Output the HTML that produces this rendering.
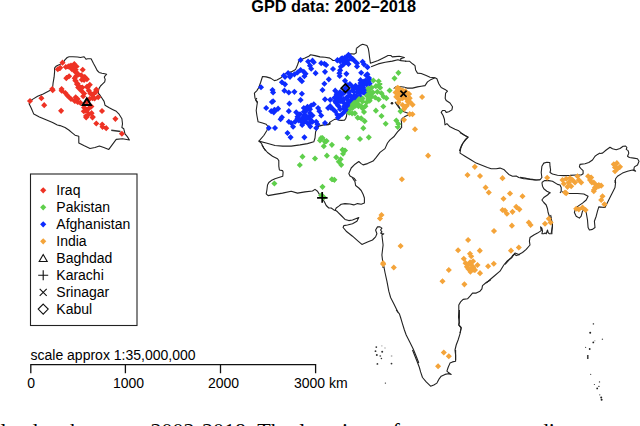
<!DOCTYPE html>
<html><head><meta charset="utf-8"><style>
html,body{margin:0;padding:0;background:#fff;width:640px;height:426px;overflow:hidden}
svg{display:block}
text{font-family:"Liberation Sans",Arial,sans-serif;fill:#000}
</style></head><body>
<svg width="640" height="426" viewBox="0 0 640 426">
<path d="M256.9 102.5 L255.0 98.1 L254.4 93.1 L256.9 90.6 L258.8 87.5 L260.6 82.5 L262.5 76.5 L266.2 76.9 L270.6 78.1 L274.4 80.6 L276.9 80.0 L280.6 78.1 L283.1 75.6 L286.2 73.1 L291.2 71.9 L295.6 69.4 L297.5 65.0 L298.8 61.2 L301.2 59.4 L305.0 58.1 L308.8 56.2 L310.6 54.8 L315.0 55.6 L320.0 56.9 L325.0 57.2 L330.0 58.1" fill="none" stroke="#222" stroke-width="1.1" stroke-linejoin="round"/>
<path d="M356.3 48.5 L359.9 45.6 L362.7 44.2 L366.9 45.6 L368.3 48.5 L369.0 52.7 L369.7 58.3 L370.4 63.2 L378.2 60.4 L385.2 56.9 L388.0 55.5 L390.8 55.5 L392.3 56.9 L395.1 56.6 L399.3 56.2 L404.4 57.5 L400.6 58.7 L401.0 60.6 L406.3 61.3" fill="none" stroke="#222" stroke-width="1.1" stroke-linejoin="round"/>
<path d="M371.1 66.8 L378.2 63.9 L385.2 62.3 L392.3 61.1 L397.9 59.7 L401.0 60.6" fill="none" stroke="#222" stroke-width="1.1" stroke-linejoin="round"/>
<path d="M404.9 87.2 L399.3 86.5 L395.8 86.8 L393.7 88.6" fill="none" stroke="#222" stroke-width="1.1" stroke-linejoin="round"/>
<path d="M395.0 101.8 L397.8 104.6 L399.9 108.2" fill="none" stroke="#222" stroke-width="1.1" stroke-linejoin="round"/>
<path d="M256.9 98.0 L255.6 99.9 L257.5 101.8 L256.9 105.5 L256.2 110.5 L256.9 115.5 L258.1 121.8 L262.5 123.0 L266.2 124.2 L268.1 126.8 L266.9 130.5 L263.8 135.5 L260.0 139.9 L258.8 141.1 L261.2 143.0 L263.8 148.0 L265.6 151.0" fill="none" stroke="#222" stroke-width="1.1" stroke-linejoin="round"/>
<path d="M258.8 141.1 L266.2 143.0 L275.0 145.5 L282.5 146.1 L291.2 146.1 L300.0 144.9 L307.5 143.6 L313.8 141.8 L315.0 138.0 L315.6 131.8 L318.8 126.1 L323.8 124.9 L328.1 124.2 L330.0 123.0" fill="none" stroke="#222" stroke-width="1.1" stroke-linejoin="round"/>
<path d="M326.0 125.0 L328.8 124.6 L330.2 123.9 L329.5 122.5 L331.6 121.1 L334.5 119.4 L336.6 119.0 L338.7 120.1 L341.5 120.4 L344.3 120.3 L345.7 118.7 L346.4 116.5 L346.8 114.1 L347.8 110.6 L349.2 106.3 L354.2 102.1" fill="none" stroke="#222" stroke-width="1.1" stroke-linejoin="round"/>
<path d="M395.2 102.2 L397.0 105.0 L399.1 107.9 L401.2 110.0 L404.0 111.7 L406.8 112.8 L409.0 113.8 L408.3 114.9 L405.4 116.3 L402.6 118.1 L401.2 119.8 L401.6 123.4 L401.6 128.0" fill="none" stroke="#222" stroke-width="1.1" stroke-linejoin="round"/>
<path d="M405.0 61.2 L409.4 61.2 L412.5 63.8 L415.0 65.6 L415.6 70.0 L417.5 73.1 L421.2 73.5 L426.2 75.6 L430.0 77.2 L435.0 77.8 L436.9 78.8 L438.8 83.8 L441.2 87.5 L445.0 89.4 L447.5 91.2 L445.6 93.1 L445.2 98.0" fill="none" stroke="#222" stroke-width="1.1" stroke-linejoin="round"/>
<path d="M435.0 77.8 L431.2 79.4 L427.5 81.9 L425.0 85.6 L421.2 86.2 L417.5 86.9 L412.5 88.1 L407.5 88.1 L405.0 87.5" fill="none" stroke="#222" stroke-width="1.1" stroke-linejoin="round"/>
<path d="M445.0 98.0 L446.2 100.5 L450.0 103.0 L452.5 106.8 L451.9 109.9 L448.8 111.8 L446.2 112.4 L445.0 110.5 L442.5 110.5 L441.2 112.4 L443.1 115.5 L444.4 119.2 L445.0 124.9 L446.9 123.6 L450.0 126.8 L455.0 129.2 L458.8 130.8 L461.2 133.0 L465.0 135.5 L468.1 137.4 L466.2 139.2 L463.1 143.0 L461.2 146.1 L459.4 151.0" fill="none" stroke="#222" stroke-width="1.1" stroke-linejoin="round"/>
<path d="M401.2 128.0 L397.5 131.8 L393.8 136.8 L390.0 139.9 L387.5 143.0 L385.0 148.6 L380.0 152.4 L376.2 157.4 L373.1 161.1 L367.5 163.6 L363.1 164.9 L361.2 163.6 L358.8 161.5 L355.0 164.2 L351.2 168.0 L348.8 173.6 L350.0 176.1 L354.4 178.6 L356.2 181.0" fill="none" stroke="#222" stroke-width="1.1" stroke-linejoin="round"/>
<path d="M261.9 145.0 L263.8 148.1 L267.5 152.5 L272.5 156.2 L277.5 158.8 L278.8 160.6 L278.8 166.2 L279.4 170.0 L282.5 170.6 L283.1 171.9 L282.8 176.2 L278.8 177.5 L275.0 178.8 L271.2 180.6 L268.8 182.5 L267.5 185.0 L266.9 190.0 L266.2 193.8 L268.1 195.6 L275.0 194.4 L282.5 193.1 L291.2 191.2 L297.5 193.1 L305.0 191.9 L312.5 191.0 L315.0 189.4 L317.5 191.2 L319.4 194.4" fill="none" stroke="#222" stroke-width="1.1" stroke-linejoin="round"/>
<path d="M460.0 132.5 L465.0 135.6 L468.1 136.9 L465.0 140.0 L462.5 143.8 L460.6 148.8 L460.0 153.1 L465.0 156.2 L471.2 160.0 L476.2 163.1 L482.5 165.6 L487.5 167.5 L491.2 168.8 L496.2 168.8 L500.0 168.1 L503.8 169.4 L506.2 171.9 L508.8 174.4 L512.5 176.2 L516.2 176.0 L518.8 177.5 L523.8 178.8 L528.8 179.0 L532.5 179.4 L536.2 180.0 L540.0 179.8" fill="none" stroke="#222" stroke-width="1.1" stroke-linejoin="round"/>
<path d="M520.0 177.2 L525.0 178.1 L530.0 179.4 L535.0 180.0 L540.0 179.8 L541.9 177.5 L541.2 172.5 L541.9 166.2 L543.8 163.1 L546.9 162.2 L549.8 162.5 L550.0 166.2 L550.6 170.0 L550.0 172.5 L552.5 174.0 L557.5 175.2 L563.8 175.6 L570.0 175.4 L576.2 175.0 L581.2 175.0 L583.1 173.8 L583.1 170.6 L581.2 168.8 L579.4 166.9 L580.0 164.4 L585.0 163.8 L588.8 162.5 L592.5 160.0 L595.0 156.2 L597.5 154.4 L600.0 153.1" fill="none" stroke="#222" stroke-width="1.1" stroke-linejoin="round"/>
<path d="M541.9 182.5 L544.4 180.6 L548.8 180.6 L552.5 181.2 L557.5 184.4 L560.0 185.0 L561.2 187.5 L561.2 191.2 L560.0 193.0" fill="none" stroke="#222" stroke-width="1.1" stroke-linejoin="round"/>
<path d="M541.9 182.5 L542.5 186.2 L543.8 188.8 L546.9 191.2 L550.6 193.0" fill="none" stroke="#222" stroke-width="1.1" stroke-linejoin="round"/>
<path d="M600.0 153.5 L602.5 153.1 L606.2 150.0 L610.0 147.2 L612.5 148.8 L616.2 149.8 L620.0 148.5 L623.1 146.2 L625.6 146.0 L626.9 147.5 L626.2 149.4 L628.1 150.6 L628.8 153.1 L627.5 156.2 L629.4 157.5 L633.8 158.1 L637.5 158.8 L639.0 161.2 L637.5 165.0 L634.4 166.9 L633.8 169.4 L635.6 171.2 L632.5 170.0 L627.5 171.2 L622.5 173.1 L617.5 176.2 L615.6 178.8 L615.0 183.0" fill="none" stroke="#222" stroke-width="1.1" stroke-linejoin="round"/>
<path d="M561.9 191.9 L568.8 193.5 L577.5 193.5 L583.8 194.0 L588.1 196.2 L586.2 200.0 L582.5 203.1 L578.8 205.6 L575.6 208.1 L574.4 212.5 L576.2 216.2 L579.4 218.1 L581.2 216.2 L582.5 211.2 L583.8 209.4 L586.2 212.5 L587.5 220.0 L588.1 227.5 L589.4 230.0 L592.5 229.4 L595.0 227.5 L594.4 221.2 L596.2 216.2 L597.5 211.2 L598.8 206.9 L605.0 207.5 L606.2 205.0 L608.1 201.2 L610.6 196.2 L612.5 192.5 L615.0 187.5 L615.6 182.5 L615.0 180.0" fill="none" stroke="#222" stroke-width="1.1" stroke-linejoin="round"/>
<path d="M550.0 192.5 L547.5 195.0 L543.8 197.5 L541.9 200.0 L543.8 202.5 L546.2 205.0 L547.5 208.8 L548.1 212.5 L549.4 216.2 L551.2 218.8 L552.5 225.0 L551.9 230.0 L551.2 233.0" fill="none" stroke="#222" stroke-width="1.1" stroke-linejoin="round"/>
<path d="M486.2 283.0 L492.5 277.5 L500.0 271.2 L503.8 265.0 L507.5 260.6 L511.9 257.5 L512.5 255.6 L514.4 253.8 L516.2 255.6 L520.0 254.4" fill="none" stroke="#222" stroke-width="1.1" stroke-linejoin="round"/>
<path d="M505.0 264.4 L510.0 258.8 L513.8 255.0 L515.0 253.1 L518.8 254.4 L522.5 252.5 L526.2 249.4 L530.0 245.0 L529.4 241.2 L530.0 237.5 L533.8 235.0 L537.5 233.1 L541.2 230.6 L540.6 226.9 L541.9 228.1 L542.5 231.2 L541.9 233.8 L543.8 233.8 L545.0 233.1 L546.2 233.8 L547.5 230.0 L548.1 232.5 L549.4 233.8 L551.9 233.8 L551.9 230.0 L552.5 226.2 L551.9 222.5 L551.2 217.5 L550.6 215.0" fill="none" stroke="#222" stroke-width="1.1" stroke-linejoin="round"/>
<path d="M490.6 280.0 L486.2 282.5 L482.5 285.6 L481.9 288.8 L480.0 291.2 L476.2 293.1 L472.5 293.1 L470.0 296.2 L467.5 298.8 L463.1 299.4 L460.6 301.9 L458.8 305.0 L458.8 311.2 L458.5 317.5 L459.4 322.5 L458.8 325.0 L461.2 327.5 L460.0 333.0" fill="none" stroke="#222" stroke-width="1.1" stroke-linejoin="round"/>
<path d="M383.8 266.2 L385.0 272.5 L386.9 281.2 L388.8 291.2 L390.6 297.5 L393.8 303.8 L398.1 312.5" fill="none" stroke="#222" stroke-width="1.1" stroke-linejoin="round"/>
<path d="M396.2 310.0 L399.4 313.8 L400.6 317.5 L402.5 323.8 L404.4 330.0 L406.2 335.0 L410.0 342.5 L413.1 348.8 L416.2 356.2 L418.8 363.0" fill="none" stroke="#222" stroke-width="1.1" stroke-linejoin="round"/>
<path d="M459.4 310.0 L459.4 317.5 L458.8 325.0 L461.2 328.1 L460.0 333.8 L458.1 340.0 L456.2 345.0 L455.0 350.0 L455.6 355.0 L455.6 360.0" fill="none" stroke="#222" stroke-width="1.1" stroke-linejoin="round"/>
<path d="M412.5 350.0 L415.0 356.2 L417.5 362.5 L419.4 367.5 L420.6 371.9 L422.5 377.5 L426.2 381.9 L430.6 386.2 L433.8 385.0 L436.9 383.1 L438.8 379.4 L441.2 376.2 L445.0 374.4 L448.1 373.8 L451.2 374.4 L448.1 372.2 L446.9 371.2 L448.1 367.5 L450.0 363.1 L452.5 361.9 L455.6 361.2 L455.6 357.5 L455.6 350.0" fill="none" stroke="#222" stroke-width="1.1" stroke-linejoin="round"/>
<path d="M330.0 58.1 L333.0 60.5 L337.3 60.5 L342.2 59.0 L346.4 56.2 L348.5 54.1 L351.4 53.8 L354.2 54.1 L356.3 52.7 L356.3 48.5" fill="none" stroke="#222" stroke-width="1.1" stroke-linejoin="round"/>
<path d="M352.5 178.0 L355.0 181.8 L355.6 185.5 L358.8 188.0 L361.2 190.5 L363.1 194.2 L364.4 198.0 L364.4 203.0 L361.2 204.2 L357.5 203.6 L353.8 204.9 L350.0 204.0 L345.0 203.6 L341.2 204.2 L338.8 206.1 L336.2 208.0 L335.0 210.5" fill="none" stroke="#222" stroke-width="1.1" stroke-linejoin="round"/>
<path d="M319.4 194.4 L321.9 198.0 L324.4 201.8 L326.2 205.5 L328.8 208.0 L331.2 208.0 L333.8 209.9 L336.2 210.8 L337.5 211.8 L341.2 215.5 L345.0 219.4 L348.8 220.6 L352.5 220.0 L358.8 217.5 L356.9 221.2 L352.5 223.8 L347.5 225.0 L343.8 225.6 L343.1 227.5 L346.2 231.2 L352.5 236.2 L357.5 240.6 L361.9 244.4 L367.5 241.9 L372.5 240.0 L375.6 236.9 L376.9 233.8 L375.6 230.0 L377.5 226.9 L380.0 226.9 L381.9 228.1 L380.6 230.0 L381.9 231.9 L380.6 233.1 L381.9 233.8 L383.8 233.8 L381.9 235.0 L382.5 240.0 L383.1 245.0 L382.5 250.0 L381.9 255.0 L382.5 260.0 L383.1 268.0" fill="none" stroke="#222" stroke-width="1.1" stroke-linejoin="round"/>
<path d="M54.6 67.8 L56.4 66.0 L59.7 64.6 L63.5 62.2 L64.9 59.9 L67.2 57.5 L69.1 56.8 L72.9 56.8 L77.6 57.0 L80.4 57.5 L84.1 56.8 L85.1 58.0 L86.0 59.2 L87.8 58.8 L91.1 58.8 L92.0 60.6 L93.5 63.5 L95.3 66.7 L97.2 70.5 L99.1 72.4 L101.9 73.3 L104.7 73.8 L106.6 74.3 L105.2 75.7 L104.3 77.1 L105.2 79.4 L104.7 81.8 L102.4 84.1 L100.5 86.0 L99.1 88.4 L98.2 90.7 L98.6 93.5 L99.4 94.4 L101.7 97.7 L104.1 101.4 L105.0 105.2 L108.8 107.5 L112.5 109.4 L116.3 111.3 L118.8 113.8 L121.9 118.8 L122.5 123.8 L121.9 127.5 L123.8 128.8 L125.0 133.8 L127.5 136.9 L129.4 140.0 L122.5 138.8 L116.2 139.4 L112.5 144.4 L108.8 149.4 L103.8 147.5 L99.4 146.0 L95.0 147.5 L90.0 148.5 L83.8 145.6 L78.8 143.1 L78.8 136.2 L75.0 135.2 L72.5 133.1 L68.8 130.0 L65.0 127.5 L60.0 125.6 L57.3 125.0 L52.6 122.6 L46.0 119.8 L39.4 117.0 L33.8 114.1 L31.4 108.5 L29.1 103.8 L30.0 101.0 L32.9 99.1 L37.6 96.3 L43.2 93.9 L49.8 90.6 L52.6 87.8 L53.1 82.9 L54.1 77.2 L54.6 71.6 L54.6 67.8" fill="none" stroke="#222" stroke-width="1.1" stroke-linejoin="round"/>
<path d="M62.5 59.6l3.05 3.05l-3.05 3.05l-3.05 -3.05zM57.8 66.2l3.05 3.05l-3.05 3.05l-3.05 -3.05zM60.2 64.8l3.05 3.05l-3.05 3.05l-3.05 -3.05zM65.8 63.9l3.05 3.05l-3.05 3.05l-3.05 -3.05zM68.2 63.4l3.05 3.05l-3.05 3.05l-3.05 -3.05zM71.0 62.4l3.05 3.05l-3.05 3.05l-3.05 -3.05zM74.3 61.0l3.05 3.05l-3.05 3.05l-3.05 -3.05zM76.6 63.4l3.05 3.05l-3.05 3.05l-3.05 -3.05zM72.9 65.3l3.05 3.05l-3.05 3.05l-3.05 -3.05zM75.7 66.7l3.05 3.05l-3.05 3.05l-3.05 -3.05zM76.6 69.5l3.05 3.05l-3.05 3.05l-3.05 -3.05zM78.5 71.4l3.05 3.05l-3.05 3.05l-3.05 -3.05zM82.7 66.7l3.05 3.05l-3.05 3.05l-3.05 -3.05zM81.3 72.3l3.05 3.05l-3.05 3.05l-3.05 -3.05zM85.1 74.2l3.05 3.05l-3.05 3.05l-3.05 -3.05zM86.9 76.1l3.05 3.05l-3.05 3.05l-3.05 -3.05zM84.1 77.0l3.05 3.05l-3.05 3.05l-3.05 -3.05zM66.3 75.1l3.05 3.05l-3.05 3.05l-3.05 -3.05zM69.1 73.2l3.05 3.05l-3.05 3.05l-3.05 -3.05zM74.7 75.1l3.05 3.05l-3.05 3.05l-3.05 -3.05zM75.7 77.9l3.05 3.05l-3.05 3.05l-3.05 -3.05zM77.6 80.8l3.05 3.05l-3.05 3.05l-3.05 -3.05zM79.4 83.6l3.05 3.05l-3.05 3.05l-3.05 -3.05zM82.3 84.5l3.05 3.05l-3.05 3.05l-3.05 -3.05zM89.8 81.7l3.05 3.05l-3.05 3.05l-3.05 -3.05zM87.9 84.5l3.05 3.05l-3.05 3.05l-3.05 -3.05zM52.2 85.9l3.05 3.05l-3.05 3.05l-3.05 -3.05zM61.6 85.9l3.05 3.05l-3.05 3.05l-3.05 -3.05zM96.3 86.4l3.05 3.05l-3.05 3.05l-3.05 -3.05zM52.7 87.1l3.05 3.05l-3.05 3.05l-3.05 -3.05zM41.4 95.1l3.05 3.05l-3.05 3.05l-3.05 -3.05zM44.2 102.1l3.05 3.05l-3.05 3.05l-3.05 -3.05zM61.1 107.8l3.05 3.05l-3.05 3.05l-3.05 -3.05zM61.6 87.6l3.05 3.05l-3.05 3.05l-3.05 -3.05zM65.4 89.9l3.05 3.05l-3.05 3.05l-3.05 -3.05zM67.2 92.3l3.05 3.05l-3.05 3.05l-3.05 -3.05zM69.1 94.2l3.05 3.05l-3.05 3.05l-3.05 -3.05zM71.0 96.0l3.05 3.05l-3.05 3.05l-3.05 -3.05zM75.7 94.2l3.05 3.05l-3.05 3.05l-3.05 -3.05zM77.6 96.0l3.05 3.05l-3.05 3.05l-3.05 -3.05zM77.6 98.9l3.05 3.05l-3.05 3.05l-3.05 -3.05zM74.7 97.9l3.05 3.05l-3.05 3.05l-3.05 -3.05zM80.4 99.8l3.05 3.05l-3.05 3.05l-3.05 -3.05zM78.5 84.8l3.05 3.05l-3.05 3.05l-3.05 -3.05zM81.3 87.6l3.05 3.05l-3.05 3.05l-3.05 -3.05zM84.1 90.4l3.05 3.05l-3.05 3.05l-3.05 -3.05zM86.9 83.8l3.05 3.05l-3.05 3.05l-3.05 -3.05zM88.8 87.6l3.05 3.05l-3.05 3.05l-3.05 -3.05zM91.6 91.3l3.05 3.05l-3.05 3.05l-3.05 -3.05zM92.6 95.1l3.05 3.05l-3.05 3.05l-3.05 -3.05zM96.3 87.6l3.05 3.05l-3.05 3.05l-3.05 -3.05zM98.2 94.2l3.05 3.05l-3.05 3.05l-3.05 -3.05zM83.2 93.2l3.05 3.05l-3.05 3.05l-3.05 -3.05zM84.1 104.5l3.05 3.05l-3.05 3.05l-3.05 -3.05zM86.9 107.3l3.05 3.05l-3.05 3.05l-3.05 -3.05zM89.8 104.5l3.05 3.05l-3.05 3.05l-3.05 -3.05zM91.6 110.1l3.05 3.05l-3.05 3.05l-3.05 -3.05zM86.0 112.9l3.05 3.05l-3.05 3.05l-3.05 -3.05zM88.8 111.1l3.05 3.05l-3.05 3.05l-3.05 -3.05zM96.3 120.4l3.05 3.05l-3.05 3.05l-3.05 -3.05zM91.4 103.5l3.05 3.05l-3.05 3.05l-3.05 -3.05zM92.8 113.9l3.05 3.05l-3.05 3.05l-3.05 -3.05zM115.4 115.8l3.05 3.05l-3.05 3.05l-3.05 -3.05zM102.2 121.4l3.05 3.05l-3.05 3.05l-3.05 -3.05zM83.8 108.2l3.05 3.05l-3.05 3.05l-3.05 -3.05zM86.2 114.5l3.05 3.05l-3.05 3.05l-3.05 -3.05zM92.5 114.5l3.05 3.05l-3.05 3.05l-3.05 -3.05zM102.5 123.8l3.05 3.05l-3.05 3.05l-3.05 -3.05zM106.2 125.1l3.05 3.05l-3.05 3.05l-3.05 -3.05zM121.9 130.7l3.05 3.05l-3.05 3.05l-3.05 -3.05zM30.0 97.9l3.05 3.05l-3.05 3.05l-3.05 -3.05zM75.4 68.9l3.05 3.05l-3.05 3.05l-3.05 -3.05zM76.1 73.1l3.05 3.05l-3.05 3.05l-3.05 -3.05zM75.4 77.4l3.05 3.05l-3.05 3.05l-3.05 -3.05zM76.8 80.9l3.05 3.05l-3.05 3.05l-3.05 -3.05zM78.2 84.4l3.05 3.05l-3.05 3.05l-3.05 -3.05zM84.6 73.9l3.05 3.05l-3.05 3.05l-3.05 -3.05zM86.7 76.0l3.05 3.05l-3.05 3.05l-3.05 -3.05zM81.8 76.7l3.05 3.05l-3.05 3.05l-3.05 -3.05zM74.0 64.0l3.05 3.05l-3.05 3.05l-3.05 -3.05zM71.9 66.1l3.05 3.05l-3.05 3.05l-3.05 -3.05zM69.1 63.3l3.05 3.05l-3.05 3.05l-3.05 -3.05zM86.8 99.2l3.05 3.05l-3.05 3.05l-3.05 -3.05zM93.2 91.2l3.05 3.05l-3.05 3.05l-3.05 -3.05zM96.0 89.0l3.05 3.05l-3.05 3.05l-3.05 -3.05zM90.4 90.5l3.05 3.05l-3.05 3.05l-3.05 -3.05zM89.6 96.0l3.05 3.05l-3.05 3.05l-3.05 -3.05zM94.6 95.4l3.05 3.05l-3.05 3.05l-3.05 -3.05zM98.1 94.0l3.05 3.05l-3.05 3.05l-3.05 -3.05zM102.0 108.0l3.05 3.05l-3.05 3.05l-3.05 -3.05z" fill="#ee3224"/>
<path d="M300.6 57.0l3.05 3.05l-3.05 3.05l-3.05 -3.05zM308.1 58.5l3.05 3.05l-3.05 3.05l-3.05 -3.05zM312.5 57.6l3.05 3.05l-3.05 3.05l-3.05 -3.05zM313.8 59.2l3.05 3.05l-3.05 3.05l-3.05 -3.05zM310.0 62.6l3.05 3.05l-3.05 3.05l-3.05 -3.05zM311.2 65.7l3.05 3.05l-3.05 3.05l-3.05 -3.05zM321.2 60.1l3.05 3.05l-3.05 3.05l-3.05 -3.05zM324.4 60.7l3.05 3.05l-3.05 3.05l-3.05 -3.05zM326.2 62.0l3.05 3.05l-3.05 3.05l-3.05 -3.05zM315.6 70.1l3.05 3.05l-3.05 3.05l-3.05 -3.05zM325.0 68.8l3.05 3.05l-3.05 3.05l-3.05 -3.05zM300.6 67.0l3.05 3.05l-3.05 3.05l-3.05 -3.05zM303.8 68.8l3.05 3.05l-3.05 3.05l-3.05 -3.05zM305.6 70.7l3.05 3.05l-3.05 3.05l-3.05 -3.05zM297.5 69.5l3.05 3.05l-3.05 3.05l-3.05 -3.05zM294.4 71.3l3.05 3.05l-3.05 3.05l-3.05 -3.05zM291.2 72.0l3.05 3.05l-3.05 3.05l-3.05 -3.05zM288.1 70.1l3.05 3.05l-3.05 3.05l-3.05 -3.05zM283.8 72.6l3.05 3.05l-3.05 3.05l-3.05 -3.05zM285.0 73.8l3.05 3.05l-3.05 3.05l-3.05 -3.05zM290.0 73.8l3.05 3.05l-3.05 3.05l-3.05 -3.05zM304.4 73.2l3.05 3.05l-3.05 3.05l-3.05 -3.05zM300.0 76.3l3.05 3.05l-3.05 3.05l-3.05 -3.05zM301.9 78.2l3.05 3.05l-3.05 3.05l-3.05 -3.05zM281.9 79.2l3.05 3.05l-3.05 3.05l-3.05 -3.05zM285.0 81.3l3.05 3.05l-3.05 3.05l-3.05 -3.05zM328.8 76.3l3.05 3.05l-3.05 3.05l-3.05 -3.05zM324.4 80.7l3.05 3.05l-3.05 3.05l-3.05 -3.05zM261.0 84.2l3.05 3.05l-3.05 3.05l-3.05 -3.05zM272.5 87.0l3.05 3.05l-3.05 3.05l-3.05 -3.05zM273.1 89.5l3.05 3.05l-3.05 3.05l-3.05 -3.05zM284.4 87.6l3.05 3.05l-3.05 3.05l-3.05 -3.05zM288.8 89.5l3.05 3.05l-3.05 3.05l-3.05 -3.05zM294.4 88.8l3.05 3.05l-3.05 3.05l-3.05 -3.05zM301.9 90.7l3.05 3.05l-3.05 3.05l-3.05 -3.05zM322.5 87.0l3.05 3.05l-3.05 3.05l-3.05 -3.05zM300.6 97.0l3.05 3.05l-3.05 3.05l-3.05 -3.05zM273.1 98.2l3.05 3.05l-3.05 3.05l-3.05 -3.05zM325.0 96.3l3.05 3.05l-3.05 3.05l-3.05 -3.05zM348.5 51.8l3.05 3.05l-3.05 3.05l-3.05 -3.05zM350.6 54.2l3.05 3.05l-3.05 3.05l-3.05 -3.05zM352.8 56.0l3.05 3.05l-3.05 3.05l-3.05 -3.05zM354.9 58.1l3.05 3.05l-3.05 3.05l-3.05 -3.05zM357.0 60.2l3.05 3.05l-3.05 3.05l-3.05 -3.05zM357.0 63.4l3.05 3.05l-3.05 3.05l-3.05 -3.05zM362.6 58.8l3.05 3.05l-3.05 3.05l-3.05 -3.05zM364.0 61.3l3.05 3.05l-3.05 3.05l-3.05 -3.05zM367.5 64.1l3.05 3.05l-3.05 3.05l-3.05 -3.05zM361.2 69.7l3.05 3.05l-3.05 3.05l-3.05 -3.05zM342.2 55.3l3.05 3.05l-3.05 3.05l-3.05 -3.05zM337.3 57.4l3.05 3.05l-3.05 3.05l-3.05 -3.05zM340.1 58.1l3.05 3.05l-3.05 3.05l-3.05 -3.05zM344.3 57.4l3.05 3.05l-3.05 3.05l-3.05 -3.05zM347.1 59.5l3.05 3.05l-3.05 3.05l-3.05 -3.05zM348.5 60.9l3.05 3.05l-3.05 3.05l-3.05 -3.05zM343.6 61.3l3.05 3.05l-3.05 3.05l-3.05 -3.05zM340.8 63.7l3.05 3.05l-3.05 3.05l-3.05 -3.05zM340.1 67.3l3.05 3.05l-3.05 3.05l-3.05 -3.05zM339.4 70.1l3.05 3.05l-3.05 3.05l-3.05 -3.05zM339.7 72.9l3.05 3.05l-3.05 3.05l-3.05 -3.05zM346.4 70.8l3.05 3.05l-3.05 3.05l-3.05 -3.05zM333.0 65.9l3.05 3.05l-3.05 3.05l-3.05 -3.05zM345.0 77.8l3.05 3.05l-3.05 3.05l-3.05 -3.05zM366.1 72.2l3.05 3.05l-3.05 3.05l-3.05 -3.05zM369.0 75.0l3.05 3.05l-3.05 3.05l-3.05 -3.05zM349.9 80.9l3.05 3.05l-3.05 3.05l-3.05 -3.05zM347.1 82.0l3.05 3.05l-3.05 3.05l-3.05 -3.05zM355.6 82.7l3.05 3.05l-3.05 3.05l-3.05 -3.05zM335.2 87.6l3.05 3.05l-3.05 3.05l-3.05 -3.05zM330.2 96.8l3.05 3.05l-3.05 3.05l-3.05 -3.05zM330.2 103.1l3.05 3.05l-3.05 3.05l-3.05 -3.05zM340.1 89.0l3.05 3.05l-3.05 3.05l-3.05 -3.05zM344.3 89.7l3.05 3.05l-3.05 3.05l-3.05 -3.05zM349.2 89.0l3.05 3.05l-3.05 3.05l-3.05 -3.05zM352.8 86.9l3.05 3.05l-3.05 3.05l-3.05 -3.05zM357.0 85.5l3.05 3.05l-3.05 3.05l-3.05 -3.05zM361.2 86.9l3.05 3.05l-3.05 3.05l-3.05 -3.05zM364.0 89.7l3.05 3.05l-3.05 3.05l-3.05 -3.05zM359.8 90.4l3.05 3.05l-3.05 3.05l-3.05 -3.05zM338.0 92.6l3.05 3.05l-3.05 3.05l-3.05 -3.05zM336.6 96.1l3.05 3.05l-3.05 3.05l-3.05 -3.05zM335.9 99.6l3.05 3.05l-3.05 3.05l-3.05 -3.05zM338.0 102.4l3.05 3.05l-3.05 3.05l-3.05 -3.05zM343.6 96.1l3.05 3.05l-3.05 3.05l-3.05 -3.05zM347.1 94.0l3.05 3.05l-3.05 3.05l-3.05 -3.05zM349.9 91.9l3.05 3.05l-3.05 3.05l-3.05 -3.05zM352.8 95.4l3.05 3.05l-3.05 3.05l-3.05 -3.05zM350.6 98.9l3.05 3.05l-3.05 3.05l-3.05 -3.05zM346.4 101.0l3.05 3.05l-3.05 3.05l-3.05 -3.05zM355.6 96.1l3.05 3.05l-3.05 3.05l-3.05 -3.05zM354.2 92.6l3.05 3.05l-3.05 3.05l-3.05 -3.05zM344.3 103.1l3.05 3.05l-3.05 3.05l-3.05 -3.05zM360.5 79.9l3.05 3.05l-3.05 3.05l-3.05 -3.05zM364.0 78.5l3.05 3.05l-3.05 3.05l-3.05 -3.05zM367.5 77.8l3.05 3.05l-3.05 3.05l-3.05 -3.05zM369.7 80.6l3.05 3.05l-3.05 3.05l-3.05 -3.05zM367.4 77.5l3.05 3.05l-3.05 3.05l-3.05 -3.05zM367.4 71.2l3.05 3.05l-3.05 3.05l-3.05 -3.05zM367.4 81.0l3.05 3.05l-3.05 3.05l-3.05 -3.05zM366.4 88.8l3.05 3.05l-3.05 3.05l-3.05 -3.05zM266.2 105.0l3.05 3.05l-3.05 3.05l-3.05 -3.05zM271.2 108.1l3.05 3.05l-3.05 3.05l-3.05 -3.05zM274.4 106.8l3.05 3.05l-3.05 3.05l-3.05 -3.05zM278.1 105.6l3.05 3.05l-3.05 3.05l-3.05 -3.05zM289.4 100.6l3.05 3.05l-3.05 3.05l-3.05 -3.05zM288.8 108.1l3.05 3.05l-3.05 3.05l-3.05 -3.05zM280.6 116.2l3.05 3.05l-3.05 3.05l-3.05 -3.05zM281.9 114.3l3.05 3.05l-3.05 3.05l-3.05 -3.05zM268.8 125.0l3.05 3.05l-3.05 3.05l-3.05 -3.05zM275.0 125.0l3.05 3.05l-3.05 3.05l-3.05 -3.05zM287.5 129.9l3.05 3.05l-3.05 3.05l-3.05 -3.05zM290.6 134.3l3.05 3.05l-3.05 3.05l-3.05 -3.05zM304.4 134.3l3.05 3.05l-3.05 3.05l-3.05 -3.05zM293.1 123.7l3.05 3.05l-3.05 3.05l-3.05 -3.05zM288.8 118.7l3.05 3.05l-3.05 3.05l-3.05 -3.05zM296.2 109.3l3.05 3.05l-3.05 3.05l-3.05 -3.05zM300.0 111.2l3.05 3.05l-3.05 3.05l-3.05 -3.05zM303.8 108.7l3.05 3.05l-3.05 3.05l-3.05 -3.05zM307.5 103.7l3.05 3.05l-3.05 3.05l-3.05 -3.05zM311.2 102.5l3.05 3.05l-3.05 3.05l-3.05 -3.05zM313.8 101.2l3.05 3.05l-3.05 3.05l-3.05 -3.05zM306.2 107.5l3.05 3.05l-3.05 3.05l-3.05 -3.05zM310.0 110.0l3.05 3.05l-3.05 3.05l-3.05 -3.05zM302.5 115.0l3.05 3.05l-3.05 3.05l-3.05 -3.05zM306.2 115.0l3.05 3.05l-3.05 3.05l-3.05 -3.05zM310.0 116.2l3.05 3.05l-3.05 3.05l-3.05 -3.05zM298.8 117.5l3.05 3.05l-3.05 3.05l-3.05 -3.05zM295.0 118.7l3.05 3.05l-3.05 3.05l-3.05 -3.05zM291.2 120.0l3.05 3.05l-3.05 3.05l-3.05 -3.05zM302.5 120.0l3.05 3.05l-3.05 3.05l-3.05 -3.05zM308.8 121.2l3.05 3.05l-3.05 3.05l-3.05 -3.05zM312.5 118.7l3.05 3.05l-3.05 3.05l-3.05 -3.05zM297.5 113.7l3.05 3.05l-3.05 3.05l-3.05 -3.05zM305.0 111.8l3.05 3.05l-3.05 3.05l-3.05 -3.05zM318.1 105.0l3.05 3.05l-3.05 3.05l-3.05 -3.05zM319.4 108.1l3.05 3.05l-3.05 3.05l-3.05 -3.05zM321.2 112.5l3.05 3.05l-3.05 3.05l-3.05 -3.05zM325.0 120.0l3.05 3.05l-3.05 3.05l-3.05 -3.05zM328.1 105.0l3.05 3.05l-3.05 3.05l-3.05 -3.05zM316.2 118.7l3.05 3.05l-3.05 3.05l-3.05 -3.05zM317.5 121.2l3.05 3.05l-3.05 3.05l-3.05 -3.05zM316.2 125.0l3.05 3.05l-3.05 3.05l-3.05 -3.05zM330.9 104.7l3.05 3.05l-3.05 3.05l-3.05 -3.05zM333.0 106.1l3.05 3.05l-3.05 3.05l-3.05 -3.05zM335.2 108.2l3.05 3.05l-3.05 3.05l-3.05 -3.05zM337.3 111.7l3.05 3.05l-3.05 3.05l-3.05 -3.05zM339.4 113.1l3.05 3.05l-3.05 3.05l-3.05 -3.05zM338.0 114.6l3.05 3.05l-3.05 3.05l-3.05 -3.05zM342.2 111.0l3.05 3.05l-3.05 3.05l-3.05 -3.05zM344.3 108.9l3.05 3.05l-3.05 3.05l-3.05 -3.05zM346.4 106.1l3.05 3.05l-3.05 3.05l-3.05 -3.05zM343.6 105.4l3.05 3.05l-3.05 3.05l-3.05 -3.05zM340.1 106.1l3.05 3.05l-3.05 3.05l-3.05 -3.05zM308.8 113.7l3.05 3.05l-3.05 3.05l-3.05 -3.05zM305.0 118.1l3.05 3.05l-3.05 3.05l-3.05 -3.05zM310.0 106.2l3.05 3.05l-3.05 3.05l-3.05 -3.05zM303.8 105.0l3.05 3.05l-3.05 3.05l-3.05 -3.05zM312.5 112.5l3.05 3.05l-3.05 3.05l-3.05 -3.05zM297.5 115.6l3.05 3.05l-3.05 3.05l-3.05 -3.05zM307.5 120.0l3.05 3.05l-3.05 3.05l-3.05 -3.05zM301.2 116.8l3.05 3.05l-3.05 3.05l-3.05 -3.05zM275.6 107.5l3.05 3.05l-3.05 3.05l-3.05 -3.05zM273.8 109.3l3.05 3.05l-3.05 3.05l-3.05 -3.05zM271.9 99.0l3.05 3.05l-3.05 3.05l-3.05 -3.05zM345.4 85.2l3.05 3.05l-3.05 3.05l-3.05 -3.05zM342.2 91.1l3.05 3.05l-3.05 3.05l-3.05 -3.05zM340.1 94.7l3.05 3.05l-3.05 3.05l-3.05 -3.05zM348.5 89.0l3.05 3.05l-3.05 3.05l-3.05 -3.05zM347.1 96.1l3.05 3.05l-3.05 3.05l-3.05 -3.05zM343.6 99.6l3.05 3.05l-3.05 3.05l-3.05 -3.05zM340.1 98.2l3.05 3.05l-3.05 3.05l-3.05 -3.05zM349.2 98.2l3.05 3.05l-3.05 3.05l-3.05 -3.05zM352.8 98.2l3.05 3.05l-3.05 3.05l-3.05 -3.05zM354.2 89.0l3.05 3.05l-3.05 3.05l-3.05 -3.05zM357.7 89.0l3.05 3.05l-3.05 3.05l-3.05 -3.05zM362.6 89.0l3.05 3.05l-3.05 3.05l-3.05 -3.05zM359.8 93.3l3.05 3.05l-3.05 3.05l-3.05 -3.05zM356.3 93.3l3.05 3.05l-3.05 3.05l-3.05 -3.05zM350.6 93.3l3.05 3.05l-3.05 3.05l-3.05 -3.05zM336.6 91.1l3.05 3.05l-3.05 3.05l-3.05 -3.05zM334.5 94.7l3.05 3.05l-3.05 3.05l-3.05 -3.05zM335.2 98.2l3.05 3.05l-3.05 3.05l-3.05 -3.05zM338.7 103.1l3.05 3.05l-3.05 3.05l-3.05 -3.05zM347.1 103.1l3.05 3.05l-3.05 3.05l-3.05 -3.05zM351.4 101.7l3.05 3.05l-3.05 3.05l-3.05 -3.05zM352.8 84.1l3.05 3.05l-3.05 3.05l-3.05 -3.05zM359.1 83.4l3.05 3.05l-3.05 3.05l-3.05 -3.05zM363.3 82.7l3.05 3.05l-3.05 3.05l-3.05 -3.05zM366.8 81.3l3.05 3.05l-3.05 3.05l-3.05 -3.05zM364.0 85.5l3.05 3.05l-3.05 3.05l-3.05 -3.05zM360.5 77.1l3.05 3.05l-3.05 3.05l-3.05 -3.05zM365.4 77.8l3.05 3.05l-3.05 3.05l-3.05 -3.05zM369.7 77.1l3.05 3.05l-3.05 3.05l-3.05 -3.05zM337.5 57.0l3.05 3.05l-3.05 3.05l-3.05 -3.05zM341.2 55.7l3.05 3.05l-3.05 3.05l-3.05 -3.05zM345.0 54.5l3.05 3.05l-3.05 3.05l-3.05 -3.05zM348.8 52.6l3.05 3.05l-3.05 3.05l-3.05 -3.05zM343.8 58.8l3.05 3.05l-3.05 3.05l-3.05 -3.05zM347.5 57.6l3.05 3.05l-3.05 3.05l-3.05 -3.05zM351.2 55.7l3.05 3.05l-3.05 3.05l-3.05 -3.05zM308.8 121.0l3.05 3.05l-3.05 3.05l-3.05 -3.05zM310.2 123.4l3.05 3.05l-3.05 3.05l-3.05 -3.05zM302.2 122.0l3.05 3.05l-3.05 3.05l-3.05 -3.05z" fill="#0d2bff"/>
<path d="M398.4 69.8l3.05 3.05l-3.05 3.05l-3.05 -3.05zM394.5 75.3l3.05 3.05l-3.05 3.05l-3.05 -3.05zM389.6 87.4l3.05 3.05l-3.05 3.05l-3.05 -3.05zM373.4 77.5l3.05 3.05l-3.05 3.05l-3.05 -3.05zM378.7 78.2l3.05 3.05l-3.05 3.05l-3.05 -3.05zM379.7 81.0l3.05 3.05l-3.05 3.05l-3.05 -3.05zM380.1 84.6l3.05 3.05l-3.05 3.05l-3.05 -3.05zM375.9 83.1l3.05 3.05l-3.05 3.05l-3.05 -3.05zM371.6 84.6l3.05 3.05l-3.05 3.05l-3.05 -3.05zM368.8 88.1l3.05 3.05l-3.05 3.05l-3.05 -3.05zM373.0 89.5l3.05 3.05l-3.05 3.05l-3.05 -3.05zM377.3 88.8l3.05 3.05l-3.05 3.05l-3.05 -3.05zM381.5 90.2l3.05 3.05l-3.05 3.05l-3.05 -3.05zM383.6 93.7l3.05 3.05l-3.05 3.05l-3.05 -3.05zM386.4 95.1l3.05 3.05l-3.05 3.05l-3.05 -3.05zM375.2 94.4l3.05 3.05l-3.05 3.05l-3.05 -3.05zM370.2 95.1l3.05 3.05l-3.05 3.05l-3.05 -3.05zM367.4 92.3l3.05 3.05l-3.05 3.05l-3.05 -3.05zM378.7 96.5l3.05 3.05l-3.05 3.05l-3.05 -3.05zM322.5 134.9l3.05 3.05l-3.05 3.05l-3.05 -3.05zM325.0 138.7l3.05 3.05l-3.05 3.05l-3.05 -3.05zM323.8 143.1l3.05 3.05l-3.05 3.05l-3.05 -3.05zM320.0 137.4l3.05 3.05l-3.05 3.05l-3.05 -3.05zM349.2 109.6l3.05 3.05l-3.05 3.05l-3.05 -3.05zM352.1 110.3l3.05 3.05l-3.05 3.05l-3.05 -3.05zM354.9 110.3l3.05 3.05l-3.05 3.05l-3.05 -3.05zM350.6 105.4l3.05 3.05l-3.05 3.05l-3.05 -3.05zM352.8 104.7l3.05 3.05l-3.05 3.05l-3.05 -3.05zM355.6 102.6l3.05 3.05l-3.05 3.05l-3.05 -3.05zM358.4 101.2l3.05 3.05l-3.05 3.05l-3.05 -3.05zM361.2 103.3l3.05 3.05l-3.05 3.05l-3.05 -3.05zM362.6 105.4l3.05 3.05l-3.05 3.05l-3.05 -3.05zM364.0 108.9l3.05 3.05l-3.05 3.05l-3.05 -3.05zM357.7 114.6l3.05 3.05l-3.05 3.05l-3.05 -3.05zM361.2 115.3l3.05 3.05l-3.05 3.05l-3.05 -3.05zM364.7 118.1l3.05 3.05l-3.05 3.05l-3.05 -3.05zM363.3 125.1l3.05 3.05l-3.05 3.05l-3.05 -3.05zM354.2 99.8l3.05 3.05l-3.05 3.05l-3.05 -3.05zM357.7 97.7l3.05 3.05l-3.05 3.05l-3.05 -3.05zM362.6 98.4l3.05 3.05l-3.05 3.05l-3.05 -3.05zM366.8 99.1l3.05 3.05l-3.05 3.05l-3.05 -3.05zM369.7 97.7l3.05 3.05l-3.05 3.05l-3.05 -3.05zM352.8 101.2l3.05 3.05l-3.05 3.05l-3.05 -3.05zM383.3 103.4l3.05 3.05l-3.05 3.05l-3.05 -3.05zM375.9 107.6l3.05 3.05l-3.05 3.05l-3.05 -3.05zM381.5 112.9l3.05 3.05l-3.05 3.05l-3.05 -3.05zM385.7 120.7l3.05 3.05l-3.05 3.05l-3.05 -3.05zM400.5 108.3l3.05 3.05l-3.05 3.05l-3.05 -3.05zM396.3 117.5l3.05 3.05l-3.05 3.05l-3.05 -3.05zM398.4 121.0l3.05 3.05l-3.05 3.05l-3.05 -3.05zM397.7 123.8l3.05 3.05l-3.05 3.05l-3.05 -3.05zM347.5 134.7l3.05 3.05l-3.05 3.05l-3.05 -3.05zM360.0 135.9l3.05 3.05l-3.05 3.05l-3.05 -3.05zM368.8 134.3l3.05 3.05l-3.05 3.05l-3.05 -3.05zM331.9 141.8l3.05 3.05l-3.05 3.05l-3.05 -3.05zM342.5 146.8l3.05 3.05l-3.05 3.05l-3.05 -3.05zM345.0 147.4l3.05 3.05l-3.05 3.05l-3.05 -3.05zM343.1 150.6l3.05 3.05l-3.05 3.05l-3.05 -3.05zM336.2 154.3l3.05 3.05l-3.05 3.05l-3.05 -3.05zM340.6 156.2l3.05 3.05l-3.05 3.05l-3.05 -3.05zM338.8 158.7l3.05 3.05l-3.05 3.05l-3.05 -3.05zM341.2 161.8l3.05 3.05l-3.05 3.05l-3.05 -3.05zM331.9 176.2l3.05 3.05l-3.05 3.05l-3.05 -3.05zM334.4 176.8l3.05 3.05l-3.05 3.05l-3.05 -3.05zM302.5 153.6l3.05 3.05l-3.05 3.05l-3.05 -3.05zM315.0 155.4l3.05 3.05l-3.05 3.05l-3.05 -3.05zM326.9 152.6l3.05 3.05l-3.05 3.05l-3.05 -3.05zM299.8 161.9l3.05 3.05l-3.05 3.05l-3.05 -3.05zM274.4 180.4l3.05 3.05l-3.05 3.05l-3.05 -3.05zM322.5 183.8l3.05 3.05l-3.05 3.05l-3.05 -3.05zM322.5 193.1l3.05 3.05l-3.05 3.05l-3.05 -3.05zM321.2 192.4l3.05 3.05l-3.05 3.05l-3.05 -3.05zM323.8 194.3l3.05 3.05l-3.05 3.05l-3.05 -3.05zM368.3 85.5l3.05 3.05l-3.05 3.05l-3.05 -3.05zM369.7 89.0l3.05 3.05l-3.05 3.05l-3.05 -3.05zM366.8 92.6l3.05 3.05l-3.05 3.05l-3.05 -3.05zM362.6 95.4l3.05 3.05l-3.05 3.05l-3.05 -3.05zM359.1 96.1l3.05 3.05l-3.05 3.05l-3.05 -3.05zM356.3 99.6l3.05 3.05l-3.05 3.05l-3.05 -3.05zM352.8 102.4l3.05 3.05l-3.05 3.05l-3.05 -3.05zM368.3 96.1l3.05 3.05l-3.05 3.05l-3.05 -3.05zM371.1 92.6l3.05 3.05l-3.05 3.05l-3.05 -3.05zM358.4 103.1l3.05 3.05l-3.05 3.05l-3.05 -3.05zM365.4 103.1l3.05 3.05l-3.05 3.05l-3.05 -3.05zM326.6 137.9l3.05 3.05l-3.05 3.05l-3.05 -3.05zM321.0 135.1l3.05 3.05l-3.05 3.05l-3.05 -3.05z" fill="#5fcf4c"/>
<path d="M397.0 85.3l3.05 3.05l-3.05 3.05l-3.05 -3.05zM395.6 89.5l3.05 3.05l-3.05 3.05l-3.05 -3.05zM396.3 93.7l3.05 3.05l-3.05 3.05l-3.05 -3.05zM401.2 90.2l3.05 3.05l-3.05 3.05l-3.05 -3.05zM405.4 88.1l3.05 3.05l-3.05 3.05l-3.05 -3.05zM408.3 90.9l3.05 3.05l-3.05 3.05l-3.05 -3.05zM409.7 95.1l3.05 3.05l-3.05 3.05l-3.05 -3.05zM402.6 95.1l3.05 3.05l-3.05 3.05l-3.05 -3.05zM399.8 86.0l3.05 3.05l-3.05 3.05l-3.05 -3.05zM422.1 93.9l3.05 3.05l-3.05 3.05l-3.05 -3.05zM397.8 84.7l3.05 3.05l-3.05 3.05l-3.05 -3.05zM397.1 88.9l3.05 3.05l-3.05 3.05l-3.05 -3.05zM396.4 93.9l3.05 3.05l-3.05 3.05l-3.05 -3.05zM399.2 96.7l3.05 3.05l-3.05 3.05l-3.05 -3.05zM398.5 99.5l3.05 3.05l-3.05 3.05l-3.05 -3.05zM402.7 87.5l3.05 3.05l-3.05 3.05l-3.05 -3.05zM409.1 91.0l3.05 3.05l-3.05 3.05l-3.05 -3.05zM409.1 95.3l3.05 3.05l-3.05 3.05l-3.05 -3.05zM405.6 94.6l3.05 3.05l-3.05 3.05l-3.05 -3.05zM403.5 93.1l3.05 3.05l-3.05 3.05l-3.05 -3.05zM407.7 98.1l3.05 3.05l-3.05 3.05l-3.05 -3.05zM412.6 101.6l3.05 3.05l-3.05 3.05l-3.05 -3.05zM405.6 103.7l3.05 3.05l-3.05 3.05l-3.05 -3.05zM404.2 105.8l3.05 3.05l-3.05 3.05l-3.05 -3.05zM410.5 99.5l3.05 3.05l-3.05 3.05l-3.05 -3.05zM404.7 104.8l3.05 3.05l-3.05 3.05l-3.05 -3.05zM402.6 102.0l3.05 3.05l-3.05 3.05l-3.05 -3.05zM408.3 99.2l3.05 3.05l-3.05 3.05l-3.05 -3.05zM406.8 102.7l3.05 3.05l-3.05 3.05l-3.05 -3.05zM404.0 116.8l3.05 3.05l-3.05 3.05l-3.05 -3.05zM409.7 111.1l3.05 3.05l-3.05 3.05l-3.05 -3.05zM412.5 111.2l3.05 3.05l-3.05 3.05l-3.05 -3.05zM415.0 126.2l3.05 3.05l-3.05 3.05l-3.05 -3.05zM401.9 176.2l3.05 3.05l-3.05 3.05l-3.05 -3.05zM380.0 215.4l3.05 3.05l-3.05 3.05l-3.05 -3.05zM400.6 242.9l3.05 3.05l-3.05 3.05l-3.05 -3.05zM383.1 260.1l3.05 3.05l-3.05 3.05l-3.05 -3.05zM393.8 264.4l3.05 3.05l-3.05 3.05l-3.05 -3.05zM428.1 152.6l3.05 3.05l-3.05 3.05l-3.05 -3.05zM474.8 163.8l3.05 3.05l-3.05 3.05l-3.05 -3.05zM467.5 171.9l3.05 3.05l-3.05 3.05l-3.05 -3.05zM480.0 172.9l3.05 3.05l-3.05 3.05l-3.05 -3.05zM502.5 175.1l3.05 3.05l-3.05 3.05l-3.05 -3.05zM485.6 184.4l3.05 3.05l-3.05 3.05l-3.05 -3.05zM488.8 189.4l3.05 3.05l-3.05 3.05l-3.05 -3.05zM510.0 190.4l3.05 3.05l-3.05 3.05l-3.05 -3.05zM503.5 195.7l3.05 3.05l-3.05 3.05l-3.05 -3.05zM502.5 206.9l3.05 3.05l-3.05 3.05l-3.05 -3.05zM505.0 207.6l3.05 3.05l-3.05 3.05l-3.05 -3.05zM506.9 210.7l3.05 3.05l-3.05 3.05l-3.05 -3.05zM512.5 208.8l3.05 3.05l-3.05 3.05l-3.05 -3.05zM516.2 203.8l3.05 3.05l-3.05 3.05l-3.05 -3.05zM519.4 206.3l3.05 3.05l-3.05 3.05l-3.05 -3.05zM511.9 222.6l3.05 3.05l-3.05 3.05l-3.05 -3.05zM494.0 227.9l3.05 3.05l-3.05 3.05l-3.05 -3.05zM547.2 174.7l3.05 3.05l-3.05 3.05l-3.05 -3.05zM562.5 176.9l3.05 3.05l-3.05 3.05l-3.05 -3.05zM566.2 175.7l3.05 3.05l-3.05 3.05l-3.05 -3.05zM570.0 175.1l3.05 3.05l-3.05 3.05l-3.05 -3.05zM572.5 176.9l3.05 3.05l-3.05 3.05l-3.05 -3.05zM563.8 180.7l3.05 3.05l-3.05 3.05l-3.05 -3.05zM568.8 179.4l3.05 3.05l-3.05 3.05l-3.05 -3.05zM567.5 183.8l3.05 3.05l-3.05 3.05l-3.05 -3.05zM571.2 183.2l3.05 3.05l-3.05 3.05l-3.05 -3.05zM577.5 173.2l3.05 3.05l-3.05 3.05l-3.05 -3.05zM578.8 176.9l3.05 3.05l-3.05 3.05l-3.05 -3.05zM581.2 179.4l3.05 3.05l-3.05 3.05l-3.05 -3.05zM575.0 179.4l3.05 3.05l-3.05 3.05l-3.05 -3.05zM565.0 189.4l3.05 3.05l-3.05 3.05l-3.05 -3.05zM588.1 173.2l3.05 3.05l-3.05 3.05l-3.05 -3.05zM591.2 174.4l3.05 3.05l-3.05 3.05l-3.05 -3.05zM590.0 176.9l3.05 3.05l-3.05 3.05l-3.05 -3.05zM593.8 179.4l3.05 3.05l-3.05 3.05l-3.05 -3.05zM596.2 181.9l3.05 3.05l-3.05 3.05l-3.05 -3.05zM598.8 183.2l3.05 3.05l-3.05 3.05l-3.05 -3.05zM593.8 186.9l3.05 3.05l-3.05 3.05l-3.05 -3.05zM595.0 184.4l3.05 3.05l-3.05 3.05l-3.05 -3.05zM613.8 161.3l3.05 3.05l-3.05 3.05l-3.05 -3.05zM616.9 160.1l3.05 3.05l-3.05 3.05l-3.05 -3.05zM620.0 163.8l3.05 3.05l-3.05 3.05l-3.05 -3.05zM615.0 164.4l3.05 3.05l-3.05 3.05l-3.05 -3.05zM615.0 168.2l3.05 3.05l-3.05 3.05l-3.05 -3.05zM617.5 165.7l3.05 3.05l-3.05 3.05l-3.05 -3.05zM566.2 190.1l3.05 3.05l-3.05 3.05l-3.05 -3.05zM576.2 205.7l3.05 3.05l-3.05 3.05l-3.05 -3.05zM582.5 204.4l3.05 3.05l-3.05 3.05l-3.05 -3.05zM585.6 206.9l3.05 3.05l-3.05 3.05l-3.05 -3.05zM578.8 206.3l3.05 3.05l-3.05 3.05l-3.05 -3.05zM593.8 188.2l3.05 3.05l-3.05 3.05l-3.05 -3.05zM595.0 185.7l3.05 3.05l-3.05 3.05l-3.05 -3.05zM601.2 182.6l3.05 3.05l-3.05 3.05l-3.05 -3.05zM602.5 193.2l3.05 3.05l-3.05 3.05l-3.05 -3.05zM601.2 196.9l3.05 3.05l-3.05 3.05l-3.05 -3.05zM604.4 201.3l3.05 3.05l-3.05 3.05l-3.05 -3.05zM548.8 215.7l3.05 3.05l-3.05 3.05l-3.05 -3.05zM545.0 220.7l3.05 3.05l-3.05 3.05l-3.05 -3.05zM550.6 219.4l3.05 3.05l-3.05 3.05l-3.05 -3.05zM591.9 179.4l3.05 3.05l-3.05 3.05l-3.05 -3.05zM598.8 181.9l3.05 3.05l-3.05 3.05l-3.05 -3.05zM468.1 236.9l3.05 3.05l-3.05 3.05l-3.05 -3.05zM458.1 247.2l3.05 3.05l-3.05 3.05l-3.05 -3.05zM479.8 247.6l3.05 3.05l-3.05 3.05l-3.05 -3.05zM470.0 250.7l3.05 3.05l-3.05 3.05l-3.05 -3.05zM471.2 253.2l3.05 3.05l-3.05 3.05l-3.05 -3.05zM463.8 255.7l3.05 3.05l-3.05 3.05l-3.05 -3.05zM465.6 260.1l3.05 3.05l-3.05 3.05l-3.05 -3.05zM468.8 261.3l3.05 3.05l-3.05 3.05l-3.05 -3.05zM473.1 258.2l3.05 3.05l-3.05 3.05l-3.05 -3.05zM477.5 261.9l3.05 3.05l-3.05 3.05l-3.05 -3.05zM466.9 263.8l3.05 3.05l-3.05 3.05l-3.05 -3.05zM470.6 266.9l3.05 3.05l-3.05 3.05l-3.05 -3.05zM475.0 266.9l3.05 3.05l-3.05 3.05l-3.05 -3.05zM480.0 270.1l3.05 3.05l-3.05 3.05l-3.05 -3.05zM488.1 263.2l3.05 3.05l-3.05 3.05l-3.05 -3.05zM493.8 260.7l3.05 3.05l-3.05 3.05l-3.05 -3.05zM448.8 266.9l3.05 3.05l-3.05 3.05l-3.05 -3.05zM511.0 247.6l3.05 3.05l-3.05 3.05l-3.05 -3.05zM518.8 244.4l3.05 3.05l-3.05 3.05l-3.05 -3.05zM442.5 278.2l3.05 3.05l-3.05 3.05l-3.05 -3.05zM528.8 219.4l3.05 3.05l-3.05 3.05l-3.05 -3.05zM530.6 221.9l3.05 3.05l-3.05 3.05l-3.05 -3.05zM464.4 281.3l3.05 3.05l-3.05 3.05l-3.05 -3.05zM443.8 349.4l3.05 3.05l-3.05 3.05l-3.05 -3.05zM448.8 353.2l3.05 3.05l-3.05 3.05l-3.05 -3.05zM438.1 363.2l3.05 3.05l-3.05 3.05l-3.05 -3.05zM522.5 193.2l3.05 3.05l-3.05 3.05l-3.05 -3.05zM470.1 259.3l3.05 3.05l-3.05 3.05l-3.05 -3.05zM473.4 264.3l3.05 3.05l-3.05 3.05l-3.05 -3.05zM468.4 265.9l3.05 3.05l-3.05 3.05l-3.05 -3.05zM381.5 212.0l3.05 3.05l-3.05 3.05l-3.05 -3.05zM383.2 261.1l3.05 3.05l-3.05 3.05l-3.05 -3.05zM398.7 91.9l3.05 3.05l-3.05 3.05l-3.05 -3.05zM470.4 268.7l3.05 3.05l-3.05 3.05l-3.05 -3.05zM473.9 266.6l3.05 3.05l-3.05 3.05l-3.05 -3.05zM468.3 265.2l3.05 3.05l-3.05 3.05l-3.05 -3.05zM471.1 261.7l3.05 3.05l-3.05 3.05l-3.05 -3.05z" fill="#f4a43a"/>
<circle cx="392" cy="103.3" r="1.3" fill="#222"/><circle cx="376.3" cy="347.1" r="0.9" fill="#333"/><circle cx="381.8" cy="345.8" r="0.9" fill="#ccc"/><circle cx="385" cy="348" r="0.9" fill="#ccc"/><circle cx="375.5" cy="351.2" r="0.9" fill="#333"/><circle cx="382.2" cy="351.8" r="1.0" fill="#333"/><circle cx="376.8" cy="355" r="1.0" fill="#333"/><circle cx="380.3" cy="356" r="0.9" fill="#777"/><circle cx="391.6" cy="356" r="0.9" fill="#bbb"/><circle cx="381.4" cy="358.5" r="0.8" fill="#333"/><circle cx="377.4" cy="363.9" r="0.9" fill="#333"/><circle cx="391.5" cy="363.6" r="0.9" fill="#333"/><circle cx="593.4" cy="323.9" r="0.8" fill="#555"/><circle cx="590.2" cy="332.7" r="1.0" fill="#222"/><circle cx="602.4" cy="339.3" r="0.7" fill="#555"/><circle cx="594.8" cy="340.7" r="0.8" fill="#bbb"/><circle cx="593.3" cy="342.4" r="0.9" fill="#222"/><circle cx="585.6" cy="347.4" r="0.6" fill="#555"/><circle cx="589.7" cy="349" r="0.9" fill="#222"/><circle cx="587.8" cy="356" r="0.9" fill="#222"/><circle cx="587.8" cy="358" r="0.9" fill="#222"/><circle cx="590.7" cy="374.3" r="0.6" fill="#333"/><circle cx="599.5" cy="381.9" r="0.7" fill="#333"/><circle cx="594.4" cy="384.5" r="0.6" fill="#333"/><circle cx="597.2" cy="388.4" r="0.9" fill="#222"/><circle cx="598.9" cy="386.4" r="0.7" fill="#333"/><circle cx="599.8" cy="394.8" r="0.6" fill="#333"/><circle cx="601.2" cy="397.5" r="1.0" fill="#222"/><circle cx="601.6" cy="399.8" r="1.0" fill="#222"/><circle cx="385.4" cy="383.1" r="0.7" fill="#333"/>

<text x="333.6" y="12.2" font-size="16.3" font-weight="bold" text-anchor="middle">GPD data: 2002–2018</text>
<rect x="30.5" y="174" width="106.5" height="151.5" fill="none" stroke="#222" stroke-width="1.1"/>
<g font-size="14">
<text x="56.3" y="195.2">Iraq</text>
<text x="56.3" y="212.2">Pakistan</text>
<text x="56.3" y="229.2">Afghanistan</text>
<text x="56.3" y="246.2">India</text>
<text x="56.3" y="263.2">Baghdad</text>
<text x="56.3" y="280.2">Karachi</text>
<text x="56.3" y="297.2">Srinagar</text>
<text x="56.3" y="314.2">Kabul</text>
</g>
<path d="M43.2 187.2l3.1 3.1l-3.1 3.1l-3.1 -3.1z" fill="#ee3224"/>
<path d="M43.2 204.2l3.1 3.1l-3.1 3.1l-3.1 -3.1z" fill="#5fcf4c"/>
<path d="M43.2 221.2l3.1 3.1l-3.1 3.1l-3.1 -3.1z" fill="#0d2bff"/>
<path d="M43.2 238.2l3.1 3.1l-3.1 3.1l-3.1 -3.1z" fill="#f4a43a"/>
<g fill="none" stroke="#111" stroke-width="1.1">
<path d="M43.2 254.5l4 7h-8z"/>
<path d="M38.2 275.3h10M43.2 270.3v10"/>
<path d="M39.7 288.8l7 7M46.7 288.8l-7 7"/>
<path d="M43.2 304.1l5 5l-5 5l-5 -5z"/>
</g>
<text x="30.5" y="360.2" font-size="14">scale approx 1:35,000,000</text>
<path d="M30.8 373.3V364.6H315.6V373.3M125.4 364.6v8.7M220.5 364.6v8.7" fill="none" stroke="#111" stroke-width="1.3"/>
<g font-size="14" text-anchor="middle">
<text x="31.2" y="387.5">0</text>
<text x="128.5" y="387.5">1000</text>
<text x="223.6" y="387.5">2000</text>
</g>
<text x="294" y="387.5" font-size="14">3000 km</text>


<g fill="none" stroke="#000" stroke-width="1.7">
<path d="M345.4 84l4.2 4.2l-4.2 4.2l-4.2 -4.2z"/>
<path d="M400.4 90.6l6.2 6.2M406.6 90.6l-6.2 6.2"/>
<path d="M317.1 197.85h10.5M322.2 192.1v10.6"/>
<path d="M86.8 98.3l4.1 6.7h-8.2z" stroke-linejoin="miter" stroke-width="2"/>
</g>
<path d="M111.25 130.2L118.75 131.25L120.5 131.5" stroke="#333" stroke-width="1.6" fill="none"/>
<text y="437.9" style="font-family:'Liberation Serif',serif" font-size="22"><tspan x="-9.2">al</tspan><tspan x="27">data</tspan><tspan x="70.2">by</tspan><tspan x="99">year,</tspan><tspan x="150.6">2002-2018.</tspan><tspan x="257.2">The</tspan><tspan x="299.3">locations</tspan><tspan x="381.5">of</tspan><tspan x="407">our</tspan><tspan x="451">corresponding</tspan><tspan x="580">areas</tspan></text>

</svg>
</body></html>
